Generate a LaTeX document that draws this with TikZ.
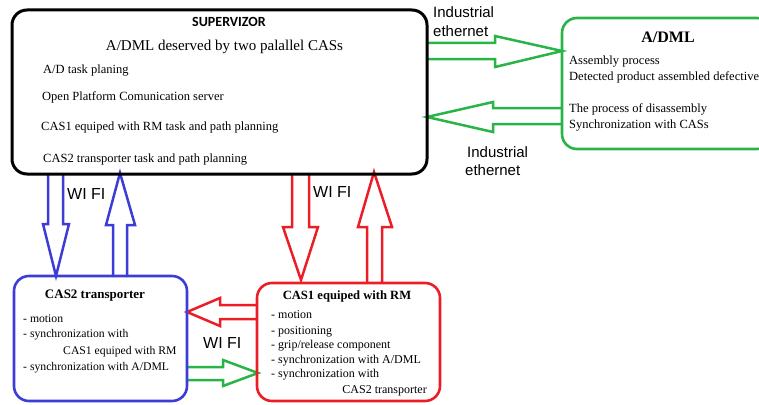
\documentclass[tikz,border=0pt]{standalone}
\usepackage{fontspec}
\setmainfont{Liberation Serif}
\newfontfamily\arialf{Liberation Sans}
\newfontfamily\calib{Carlito}
\definecolor{cblue}{RGB}{60,60,215}
\definecolor{cred}{RGB}{235,30,40}
\definecolor{cgreen}{RGB}{40,180,70}
\tikzset{
  box/.style={draw, rounded corners=15pt, line width=2.6pt, inner sep=0pt},
  txt/.style={inner sep=0pt, anchor=base west},
  ttl/.style={inner sep=0pt, anchor=base},
  barr/.style={draw=#1, line width=2.5pt, line join=miter},
  lbl/.style={inner sep=0pt, anchor=base west, font=\arialf\fontsize{15}{17}\selectfont},
}
\begin{document}
\begin{tikzpicture}[x=1pt,y=-1pt]
\useasboundingbox (0,0) rectangle (759,404);
\clip (0,0) rectangle (759,404);
% block arrows
\draw[barr=cblue] (48,174) -- (48,224) -- (43,224) -- (56,276) -- (69,224) -- (63,224) -- (63,174);
\draw[barr=cblue] (113,277) -- (113,225) -- (106,225) -- (120,173) -- (135,225) -- (127,225) -- (127,277);
\draw[barr=cred] (292,174) -- (292,227) -- (283,227) -- (301,280) -- (318,227) -- (309,227) -- (309,174);
\draw[barr=cred] (367,283) -- (367,227) -- (358,227) -- (374,172) -- (392,227) -- (382,227) -- (382,283);
\draw[barr=cred] (257,305) -- (220,305) -- (220,298) -- (187,312) -- (220,326) -- (220,319) -- (257,319);
\draw[barr=cgreen] (187,367) -- (223,367) -- (223,360) -- (258,373) -- (223,386) -- (223,380) -- (187,380);
\draw[barr=cgreen] (427,43) -- (495,43) -- (495,36) -- (562,51) -- (495,67) -- (495,59) -- (427,59);
\draw[barr=cgreen] (562,108) -- (493,108) -- (493,102) -- (427,117) -- (493,132) -- (493,124) -- (562,124);
% boxes
\node[box, draw=black, line width=3pt, minimum width=415pt, minimum height=164pt] (sup) at (219.5,92) {};
\node[box, draw=cgreen, minimum width=210pt, minimum height=131pt] (adml) at (667,83.5) {};
\node[box, draw=cblue, minimum width=173pt, minimum height=125pt] (cas2) at (100.5,338.5) {};
\node[box, draw=cred, minimum width=183pt, minimum height=118pt] (cas1) at (348.5,342) {};
% supervisor texts
\node[ttl, font=\calib\bfseries\fontsize{14}{16}\selectfont] (s0) at (229,27) {SUPERVIZOR};
\node[ttl, font=\fontsize{15}{17}\selectfont] (s1) at (224.5,51) {A/DML deserved by two palallel CASs};
\node[txt, font=\fontsize{12.5}{14}\selectfont] (s2) at (43,73) {A/D task planing};
\node[txt, font=\fontsize{12.5}{14}\selectfont] (s3) at (42,100) {Open Platform Comunication server};
\node[txt, font=\fontsize{12.5}{14}\selectfont] (s4) at (41,130) {CAS1 equiped with RM task and path planning};
\node[txt, font=\fontsize{12.5}{14}\selectfont] (s5) at (43,162) {CAS2 transporter task and path planning};
% A/DML texts
\node[ttl, font=\bfseries\fontsize{16}{18}\selectfont] (a0) at (668,42) {A/DML};
\node[txt, font=\fontsize{12.5}{14}\selectfont] (a1) at (569,64) {Assembly process};
\node[txt, font=\fontsize{12.5}{14}\selectfont] (a2) at (569,80) {Detected product assembled defective};
\node[txt, font=\fontsize{12.5}{14}\selectfont] (a3) at (569,112) {The process of disassembly};
\node[txt, font=\fontsize{12.5}{14}\selectfont] (a4) at (569,128) {Synchronization with CASs};
% CAS2 texts
\node[ttl, font=\bfseries\fontsize{13}{15}\selectfont] (c20) at (95,298) {CAS2 transporter};
\node[txt, font=\fontsize{11.7}{13}\selectfont] (c21) at (23,322) {- motion};
\node[txt, font=\fontsize{11.7}{13}\selectfont] (c22) at (23,337) {- synchronization with};
\node[txt, font=\fontsize{11.7}{13}\selectfont] (c23) at (63,354) {CAS1 equiped with RM};
\node[txt, font=\fontsize{11.7}{13}\selectfont] (c24) at (23,370) {- synchronization with A/DML};
% CAS1 texts
\node[ttl, font=\bfseries\fontsize{12.6}{15}\selectfont] (c10) at (347,299) {CAS1 equiped with RM};
\node[txt, font=\fontsize{12}{14}\selectfont] (c11) at (271,318) {- motion};
\node[txt, font=\fontsize{12}{14}\selectfont] (c12) at (271,334) {- positioning};
\node[txt, font=\fontsize{12}{14}\selectfont] (c13) at (271,348) {- grip/release component};
\node[txt, font=\fontsize{12}{14}\selectfont] (c14) at (271,363) {- synchronization with A/DML};
\node[txt, font=\fontsize{12}{14}\selectfont] (c15) at (271,377) {- synchronization with};
\node[inner sep=0pt, anchor=base east, font=\fontsize{12}{14}\selectfont] (c16) at (427,393) {CAS2 transporter};
% labels
\node[lbl] (l1) at (433,18) {Industrial};
\node[lbl] (l2) at (433,37) {ethernet};
\node[lbl] (l3) at (467,157) {Industrial};
\node[lbl] (l4) at (465,175) {ethernet};
\node[lbl, font=\arialf\fontsize{16}{18}\selectfont] (w1) at (67,199) {WI FI};
\node[lbl, font=\arialf\fontsize{16}{18}\selectfont] (w2) at (313,197) {WI FI};
\node[lbl, font=\arialf\fontsize{16}{18}\selectfont] (w3) at (203,348) {WI FI};
\end{tikzpicture}
\end{document}
